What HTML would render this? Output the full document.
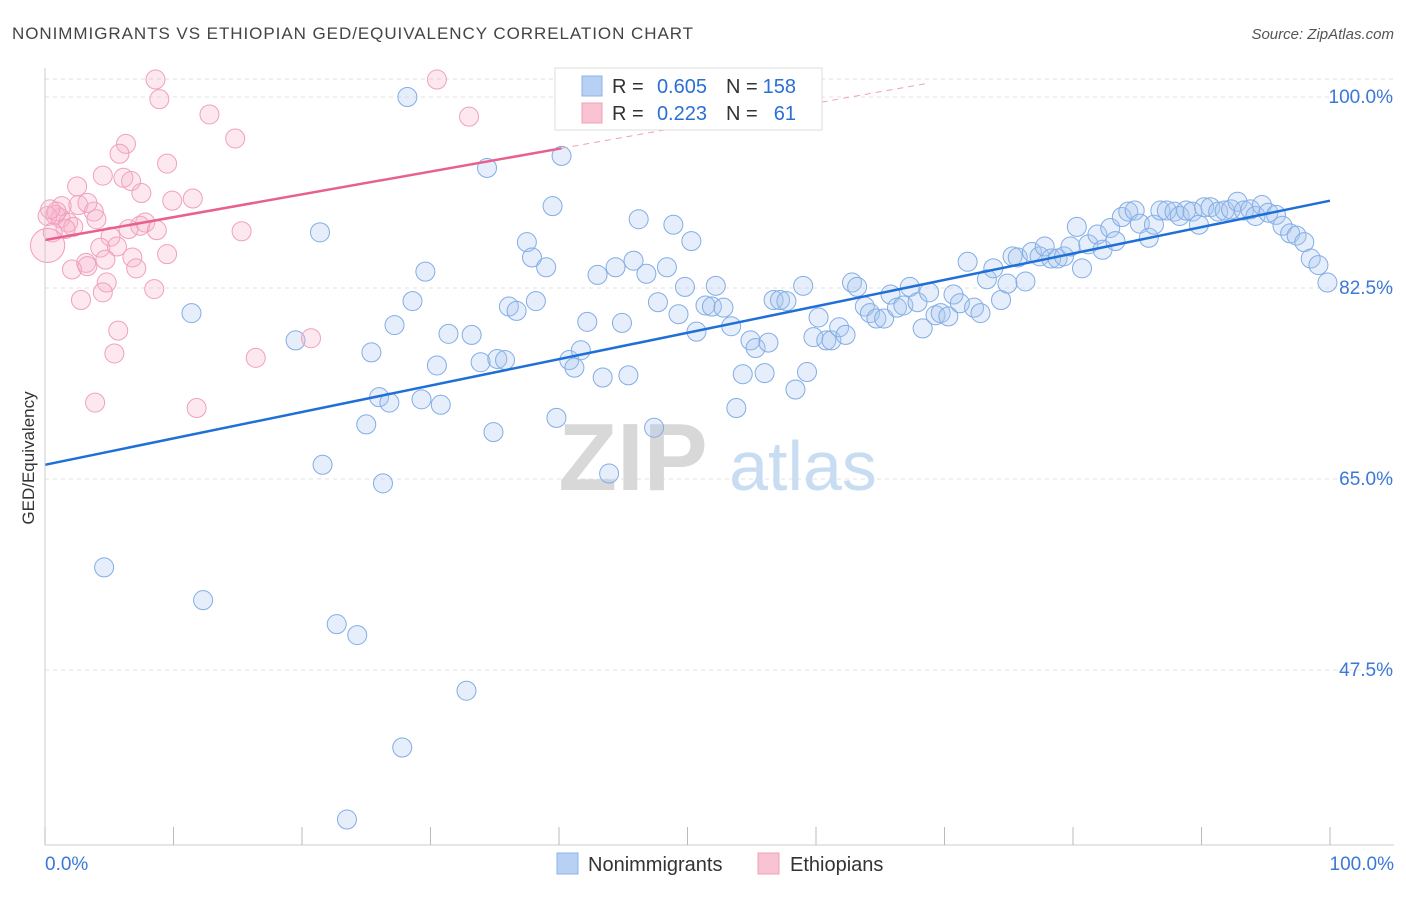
<!DOCTYPE html>
<html><head><meta charset="utf-8">
<style>
body{margin:0;background:#fff;font-family:"Liberation Sans",sans-serif;}
svg text{font-family:"Liberation Sans",sans-serif;}
</style></head>
<body>
<svg id="chart" width="1406" height="892" viewBox="0 0 1406 892" xmlns="http://www.w3.org/2000/svg">
<text x="12" y="39" font-size="17" letter-spacing="0.95" fill="#444">NONIMMIGRANTS VS ETHIOPIAN GED/EQUIVALENCY CORRELATION CHART</text>
<text x="1394" y="39" font-size="15" fill="#555" text-anchor="end" font-style="italic">Source: ZipAtlas.com</text>
<g id="grid"></g>
<g>
<text x="633" y="490" font-size="96" fill="#d8d8d8" text-anchor="middle" font-family="Liberation Serif" font-weight="bold">ZIP</text>
<text x="803" y="490" font-size="70" fill="#c8dcf2" text-anchor="middle">atlas</text>
</g>
<g id="pts"></g>
<g id="lines"></g>
<g id="axes"></g>
<text transform="translate(34,458) rotate(-90)" font-size="17" fill="#333" text-anchor="middle">GED/Equivalency</text>
<g>
<rect x="555" y="68" width="267" height="62" fill="#fff" stroke="#ddd"/>
<rect x="582" y="76" width="20" height="20" fill="#b8d0f4" stroke="#8ab4e8"/>
<rect x="582" y="103" width="20" height="20" fill="#f8c4d4" stroke="#f0a0b8"/>
<text x="612" y="93" font-size="20" fill="#333">R =</text>
<text x="707" y="93" font-size="20" fill="#2a6fd6" text-anchor="end">0.605</text>
<text x="726" y="93" font-size="20" fill="#333">N =</text>
<text x="796" y="93" font-size="20" fill="#2a6fd6" text-anchor="end">158</text>
<text x="612" y="120" font-size="20" fill="#333">R =</text>
<text x="707" y="120" font-size="20" fill="#2a6fd6" text-anchor="end">0.223</text>
<text x="726" y="120" font-size="20" fill="#333">N =</text>
<text x="796" y="120" font-size="20" fill="#2a6fd6" text-anchor="end">61</text>
</g>
<g>
<rect x="557" y="853" width="21" height="21" fill="#b8d0f4" stroke="#8ab4e8"/>
<text x="588" y="871" font-size="20" fill="#333">Nonimmigrants</text>
<rect x="758" y="853" width="21" height="21" fill="#f8c4d4" stroke="#f0a0b8"/>
<text x="790" y="871" font-size="20" fill="#333">Ethiopians</text>
</g>
</svg>
<script>
const blueX=[28.2,34.4,40.2,39.5,21.4,11.4,19.5,25.4,26.0,26.8,27.2,28.6,29.6,29.3,30.8,30.5,31.4,33.2,33.9,35.2,35.8,34.9,36.1,36.7,37.5,37.9,38.2,39.0,39.8,40.8,41.2,41.7,42.2,43.0,43.4,44.4,44.9,45.4,45.8,46.2,46.8,47.4,47.7,48.4,48.9,49.3,49.8,50.3,50.7,51.4,51.9,52.2,52.8,53.4,53.8,54.3,54.9,55.3,56.0,56.3,56.7,57.2,57.7,58.4,59.0,59.3,59.8,60.2,60.8,61.2,61.8,62.3,62.8,63.2,63.8,64.2,64.7,65.3,65.8,66.3,66.8,67.3,67.9,68.3,68.8,69.3,69.7,70.3,70.7,71.2,71.8,72.3,72.8,73.3,73.8,74.4,74.9,75.3,75.7,76.3,76.8,77.4,77.8,78.3,78.8,79.3,79.8,80.3,80.7,81.2,81.9,82.3,82.9,83.3,83.8,84.3,84.8,85.2,85.9,86.3,86.8,87.3,87.9,88.3,88.8,89.3,89.8,90.2,90.7,91.3,91.8,92.3,92.8,93.3,93.8,94.2,94.7,95.2,95.8,96.3,96.9,97.4,98.0,98.5,99.1,99.8,4.6,12.3,21.6,26.3,22.7,24.3,32.8,27.8,23.5,25.0,43.9];
const blueY=[100,93.5,94.6,90,87.6,80.2,77.7,76.6,72.5,72.0,79.1,81.3,84.0,72.3,71.8,75.4,78.3,78.2,75.7,76.0,75.9,69.3,80.8,80.4,86.7,85.3,81.3,84.4,70.6,75.9,75.2,76.8,79.4,83.7,74.3,84.4,79.3,74.5,85.0,88.8,83.8,69.7,81.2,84.4,88.3,80.1,82.6,86.8,78.5,80.9,80.8,82.7,80.7,79.0,71.5,74.6,77.7,77.0,74.7,77.5,81.4,81.4,81.3,73.2,82.7,74.8,78.0,79.8,77.7,77.7,78.9,78.2,83.0,82.6,80.8,80.2,79.7,79.7,81.9,80.7,80.9,82.6,81.2,78.8,82.1,80.0,80.2,79.9,81.9,81.1,84.9,80.7,80.2,83.3,84.3,81.4,82.9,85.4,85.3,83.1,85.8,85.4,86.3,85.2,85.2,85.4,86.3,88.1,84.3,86.5,87.4,86.0,88.0,86.8,89.0,89.5,89.6,88.4,87.1,88.3,89.6,89.6,89.5,89.1,89.6,89.5,88.3,89.9,89.9,89.5,89.6,89.7,90.4,89.6,89.7,89.1,90.1,89.4,89.2,88.2,87.5,87.3,86.7,85.2,84.6,83.0,56.9,53.9,66.3,64.6,51.7,50.7,45.6,40.4,33.8,70.0,65.5];
const pinkX=[8.6,30.5,8.9,12.8,33.0,6.3,14.8,5.8,9.5,4.5,6.1,2.5,6.7,7.5,11.5,9.9,1.3,2.6,3.8,3.3,0.8,0.2,1.2,1.8,2.2,1.6,4.0,7.8,7.4,6.5,8.7,15.3,5.1,4.3,5.6,6.8,9.5,3.2,2.1,4.7,7.1,4.8,4.5,8.5,2.8,5.7,20.7,5.4,16.4,3.9,11.8,0.6,0.9,0.4,3.3,0.2];
const pinkY=[101.6,101.6,99.8,98.4,98.2,95.7,96.2,94.8,93.9,92.8,92.6,91.8,92.3,91.2,90.7,90.5,90.0,90.1,89.5,90.3,89.2,89.1,88.9,88.5,88.1,87.9,88.8,88.5,88.2,87.9,87.8,87.7,87.2,86.2,86.3,85.3,85.6,84.8,84.2,85.1,84.3,83.0,82.1,82.4,81.4,78.6,77.9,76.5,76.1,72.0,71.5,87.6,89.5,89.7,84.5,86.4];
const pinkSize=[1,1,1,1,1,1,1,1,1,1,1,1,1,1,1,1,1,1,1,1,1,1,1,1,1,1,1,1,1,1,1,1,1,1,1,1,1,1,1,1,1,1,1,1,1,1,1,1,1,1,1,1,1,1,1,1.8];
const blueTrend=[66.3,90.5];
const pinkTrend=[86.9,95.3];
const pinkTrendEnd=40.2;
const yTicks=[100,82.5,65,47.5];
const yTickLabels=["100.0%","82.5%","65.0%","47.5%"];
const xTicks=[0,10,20,30,40,50,60,70,80,90,100];

const X0=45,X1=1330,Y100=97,PXU=191/17.5;
const sx=v=>X0+(X1-X0)*v/100;
const sy=v=>Y100+(100-v)*PXU;
const NS="http://www.w3.org/2000/svg";
function mk(parent,tag,attrs){const e=document.createElementNS(NS,tag);for(const k in attrs)e.setAttribute(k,attrs[k]);parent.appendChild(e);return e;}
const grid=document.getElementById('grid'),pts=document.getElementById('pts'),lines=document.getElementById('lines'),axes=document.getElementById('axes');
let g=mk(grid,'line',{x1:X0,x2:1394,y1:79,y2:79,stroke:'#ddd','stroke-dasharray':'4,4'});


yTicks.forEach((v,i)=>{
  const l=mk(grid,'line',{x1:X0,x2:1394,y1:sy(v),y2:sy(v),stroke:'#e2e2e2','stroke-dasharray':'4,4'});
  
  
  const t=mk(axes,'text',{x:1393,y:sy(v)+6,'font-size':19,fill:'#3b78d8','text-anchor':'end'});
  t.textContent=yTickLabels[i];
  
  
});
let a=mk(axes,'line',{x1:X0,x2:X0,y1:68,y2:845,stroke:'#ccc'});


a=mk(axes,'line',{x1:X0,x2:1394,y1:845,y2:845,stroke:'#ccc'});


xTicks.forEach(v=>{
  const l=mk(axes,'line',{x1:sx(v),x2:sx(v),y1:827,y2:845,stroke:'#bbb'});
  
  
});
let t=mk(axes,'text',{x:45,y:870,'font-size':19,fill:'#3b78d8'});t.textContent='0.0%';


t=mk(axes,'text',{x:1394,y:870,'font-size':19,fill:'#3b78d8','text-anchor':'end'});t.textContent='100.0%';



blueX.forEach((x,i)=>{
  const c=mk(pts,'circle',{cx:sx(x),cy:sy(blueY[i]),r:9.5,fill:'rgba(170,200,240,0.3)',stroke:'#82ade6','stroke-width':1});
  
  
});
pinkX.forEach((x,i)=>{
  const c=mk(pts,'circle',{cx:sx(x),cy:sy(pinkY[i]),r:9.5*pinkSize[i],fill:'rgba(248,180,205,0.3)',stroke:'#f0a0bb','stroke-width':1});
  
  
});
let ln=mk(lines,'line',{x1:sx(0),y1:sy(blueTrend[0]),x2:sx(100),y2:sy(blueTrend[1]),stroke:'#1f6fd8','stroke-width':2.5});


const slope=(pinkTrend[1]-pinkTrend[0])/pinkTrendEnd;
ln=mk(lines,'line',{x1:sx(0),y1:sy(pinkTrend[0]),x2:sx(pinkTrendEnd),y2:sy(pinkTrend[1]),stroke:'#e8608e','stroke-width':2.5});


const xe=68.5;
ln=mk(lines,'line',{x1:sx(pinkTrendEnd),y1:sy(pinkTrend[1]),x2:sx(xe),y2:sy(pinkTrend[0]+slope*xe),stroke:'#eea0ba','stroke-width':1,'stroke-dasharray':'6,5'});


</script>
</body></html>
